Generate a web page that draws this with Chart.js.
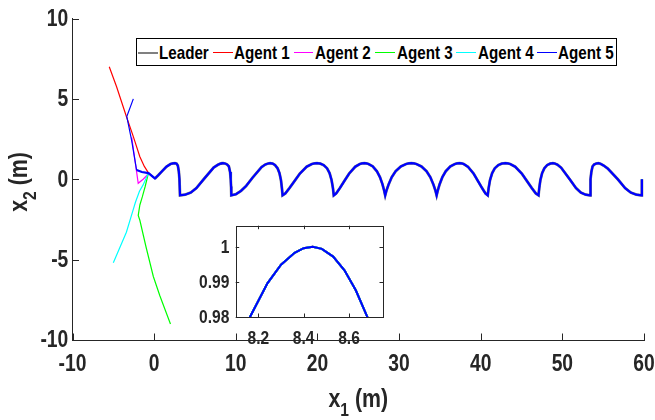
<!DOCTYPE html>
<html>
<head>
<meta charset="utf-8">
<script src="https://cdn.jsdelivr.net/npm/chart.js@4.4.0/dist/chart.umd.min.js"></script>
<style>
  body { margin: 0; background: #fff; }
  #wrap { position: relative; width: 655px; height: 420px; }
  #inset { position: absolute; left: 190px; top: 215px; }
  #main { position: absolute; left: 0; top: 0; }
  #legend {
    position: absolute; left: 136px; top: 38px; width: 479px; height: 26px;
    border: 1px solid #000; background: #fff;
    font: bold 18.5px 'Liberation Sans', Arial, sans-serif; color: #000;
  }
  .swatch { position: absolute; top: 13px; width: 19.5px; height: 0; border-top-style: solid; }
  .lbl { position: absolute; top: 3px; line-height: 21px; white-space: nowrap;
         transform: scaleX(0.82); transform-origin: left center; }
</style>
</head>
<body>
<div id="wrap">
  <canvas id="inset" width="200" height="140"></canvas>
  <canvas id="main" width="655" height="420"></canvas>
  <div id="legend"></div>
</div>
<script>
const FONT = "'Liberation Sans', Arial, sans-serif";
const SX = 0.82; // the original uses a narrow bold face

// tick values
const xTicks = [-10, 0, 10, 20, 30, 40, 50, 60];
const yTicks = [-10, -5, 0, 5, 10];
const insetXTicks = [8.2, 8.4, 8.6];
const insetYTicks = [0.98, 0.99, 1];

// leader trajectory (x1, x2)
const leaderPath = [
  [0.1,0.05],[0.5,0.25],[1.0,0.52],[1.5,0.78],[2.0,0.95],[2.3,0.99],[2.55,1.0],[2.75,0.97],[2.9,0.85],[3.02,0.5],[3.1,0.0],[3.17,-1.0],
  [3.8,-0.96],[4.49,-0.83],[5.17,-0.55],[6.07,0.0],[7.28,0.72],[7.81,0.9],[8.1,0.97],[8.163,0.98],[8.24,0.9896],[8.3,0.9949],[8.36,0.9983],[8.4,0.9996],
  [8.44,1.0],[8.48,0.9994],[8.53,0.9972],[8.58,0.9933],[8.63,0.9876],[8.681,0.98],[8.74,0.969],[8.95,0.91],[9.15,0.8],[9.3,0.45],[9.38,0.0],[9.42,-0.45],[9.45,-1.0],
  [10.02,-0.93],[10.64,-0.72],[11.26,-0.42],[12.06,0.1],[13.16,0.76],[13.63,0.92],[13.96,0.98],[14.2,1.0],[14.51,0.97],[14.81,0.88],[15.12,0.68],[15.35,0.38],[15.53,-0.05],[15.65,-0.55],[15.73,-1.0],
  [16.07,-0.88],[16.57,-0.55],[17.21,-0.1],[17.84,0.35],[18.68,0.78],[19.32,0.95],[19.65,0.99],[19.95,1.0],[20.16,0.99],[20.36,0.97],[20.77,0.88],[21.18,0.68],[21.49,0.38],[21.73,-0.05],[21.9,-0.55],[22.0,-1.0],
  [22.3,-0.88],[22.75,-0.55],[23.31,-0.1],[23.88,0.35],[24.63,0.78],[25.19,0.95],[25.47,0.985],[25.75,1.0],[26.0,0.987],[26.26,0.95],[26.77,0.8],[27.28,0.5],[27.66,0.13],[27.97,-0.32],[28.17,-0.7],[28.3,-1.0],
  [28.46,-0.7],[28.72,-0.32],[29.1,0.13],[29.58,0.5],[30.22,0.8],[30.86,0.95],[31.18,0.987],[31.5,1.0],[31.81,0.987],[32.12,0.95],[32.74,0.8],[33.36,0.5],[33.83,0.13],[34.2,-0.32],[34.45,-0.7],[34.6,-1.0],
  [34.74,-0.7],[34.96,-0.32],[35.3,0.13],[35.72,0.5],[36.28,0.8],[36.84,0.95],[37.12,0.987],[37.4,1.0],[37.66,0.988],[37.92,0.95],[38.44,0.78],[39.13,0.35],[39.65,-0.1],[40.17,-0.55],[40.58,-0.88],[40.86,-1.0],
  [40.97,-0.55],[41.14,-0.05],[41.4,0.38],[41.72,0.68],[42.14,0.88],[42.57,0.97],[42.78,0.993],[43.0,1.0],[43.3,0.988],[43.61,0.95],[44.22,0.78],[45.04,0.35],[45.65,-0.1],[46.26,-0.55],[46.75,-0.88],[47.08,-1.0],
  [47.17,-0.55],[47.31,-0.05],[47.52,0.38],[47.79,0.68],[48.14,0.88],[48.5,0.97],[48.85,1.0],[49.08,0.98],[49.4,0.91],[49.85,0.72],[50.9,0.0],[51.67,-0.55],[52.26,-0.83],[52.85,-0.96],[53.4,-1.0],
  [53.43,-0.45],[53.47,0.0],[53.55,0.45],[53.7,0.8],[53.9,0.92],[54.15,0.98],[54.4,1.0],[54.67,0.96],[55.04,0.86],[55.57,0.66],[56.79,0.0],[57.69,-0.55],[58.38,-0.83],[59.06,-0.96],[59.7,-1.0],
  [59.73,-0.5],[59.75,0.0]
];

// followers before they join the leader track
const agent1Path = [[-5.5,7.0],[-4.6,5.75],[-3.4,3.9],[-2.55,2.65],[-1.75,1.4],[-1.2,0.8],[-0.7,0.4]];
const agent2Path = [[-2.75,2.6],[-2.3,1.0],[-1.95,-0.25],[-1.35,0.0],[-0.95,0.2],[-0.7,0.38]];
const agent3Path = [[2.0,-9.0],[0.7,-7.25],[-0.1,-6.05],[-1.0,-4.2],[-1.75,-2.55],[-1.95,-2.25],[-1.75,-1.6],[-1.45,-1.1],[-1.1,-0.45],[-0.7,0.38]];
const agent4Path = [[-5.0,-5.2],[-3.4,-3.3],[-2.6,-1.95],[-2.3,-1.45],[-1.8,-0.75],[-1.35,-0.35],[-0.7,0.38]];
const agent5Path = [[-2.55,5.0],[-3.35,3.9],[-2.75,2.4],[-2.15,0.57],[-1.5,0.45],[-0.7,0.38]];

const series = [
  { label: 'Leader',  color: '#808080', width: 2.8, path: leaderPath, own: 0 },
  { label: 'Agent 1', color: '#ff0000', width: 1.2, path: agent1Path.concat(leaderPath), own: agent1Path.length },
  { label: 'Agent 2', color: '#ff00ff', width: 1.2, path: agent2Path.concat(leaderPath), own: agent2Path.length },
  { label: 'Agent 3', color: '#00ff00', width: 1.2, path: agent3Path.concat(leaderPath), own: agent3Path.length },
  { label: 'Agent 4', color: '#00ffff', width: 1.2, path: agent4Path.concat(leaderPath), own: agent4Path.length },
  { label: 'Agent 5', color: '#0000ff', width: 2.2, path: agent5Path.concat(leaderPath), own: 3 }
];

// where each legend label starts, px from the legend box
const legendTextX = [22.3, 97.3, 178, 259.7, 340.7, 421.3];

// the approach legs are thin, the shared track is thick
let makeSets = (w) => series.map((s, i) => ({
  label: s.label,
  data: s.path.map(p => ({ x: p[0], y: p[1] })),
  borderColor: s.color,
  backgroundColor: s.color,
  borderWidth: w ? w : s.width,
  segment: {
    borderWidth: (c) => (c.p0DataIndex < s.own ? 1.2 : (w ? w : s.width))
  },
  showLine: true,
  pointRadius: 0,
  tension: 0,
  fill: false,
  order: series.length - i
}));

let narrowText = (ctx, str, x, y, align) => {
  ctx.save();
  ctx.translate(x, y);
  ctx.scale(SX, 1);
  ctx.textAlign = align;
  ctx.fillText(str, 0, 0);
  ctx.restore();
};

// inward tick marks, tick labels, and a full box for the inset
const axesDeco = {
  id: 'axesDeco',
  afterDraw(chart, args, o) {
    const { ctx, chartArea: a } = chart;
    const sx = chart.scales.x, sy = chart.scales.y;
    ctx.save();
    ctx.strokeStyle = '#262626';
    ctx.lineWidth = 1;
    ctx.beginPath();
    sx.ticks.forEach(t => {
      const px = Math.round(sx.getPixelForValue(t.value)) + 0.5;
      ctx.moveTo(px, a.bottom); ctx.lineTo(px, a.bottom - o.len);
      if (o.box) { ctx.moveTo(px, a.top); ctx.lineTo(px, a.top + o.len); }
    });
    sy.ticks.forEach(t => {
      const py = Math.round(sy.getPixelForValue(t.value)) + 0.5;
      ctx.moveTo(a.left, py); ctx.lineTo(a.left + o.len, py);
      if (o.box) { ctx.moveTo(a.right, py); ctx.lineTo(a.right - o.len, py); }
    });
    ctx.stroke();
    if (o.box) {
      ctx.strokeRect(Math.round(a.left) + 0.5, Math.round(a.top) + 0.5,
        Math.round(a.right - a.left), Math.round(a.bottom - a.top));
    }
    ctx.fillStyle = '#262626';
    ctx.font = 'bold ' + o.size + 'px ' + FONT;
    ctx.textBaseline = 'middle';
    sx.ticks.forEach(t => narrowText(ctx, String(t.value), sx.getPixelForValue(t.value), o.xLabelY, 'center'));
    sy.ticks.forEach(t => narrowText(ctx, String(t.value), o.yLabelX, sy.getPixelForValue(t.value) + 1, 'right'));
    ctx.restore();
  }
};

let subLabel = (ctx, base, sub, rest, cx, y, size) => {
  const big = 'bold ' + size + 'px ' + FONT;
  const small = 'bold ' + Math.round(size * 0.72) + 'px ' + FONT;
  ctx.font = big;
  const w1 = ctx.measureText(base).width * SX, w3 = ctx.measureText(rest).width * SX;
  ctx.font = small;
  const w2 = ctx.measureText(sub).width * SX;
  let x = cx - (w1 + w2 + w3) / 2;
  ctx.textBaseline = 'alphabetic';
  ctx.font = big; narrowText(ctx, base, x, y, 'left'); x += w1;
  ctx.font = small; narrowText(ctx, sub, x, y + size * 0.33, 'left'); x += w2;
  ctx.font = big; narrowText(ctx, rest, x, y, 'left');
};

const titles = {
  id: 'titles',
  afterDraw(chart) {
    const { ctx, chartArea: a } = chart;
    ctx.save();
    ctx.fillStyle = '#262626';
    subLabel(ctx, 'x', '1', ' (m)', (a.left + a.right) / 2, 407, 26);
    ctx.translate(27, 182);
    ctx.rotate(-Math.PI / 2);
    subLabel(ctx, 'x', '2', ' (m)', 0, 0, 26);
    ctx.restore();
  }
};

let axis = (min, max, ticks, fit, border) => ({
  type: 'linear',
  min: min,
  max: max,
  grid: { display: false },
  border: { display: border, color: '#262626', width: 1 },
  afterBuildTicks: (s) => { s.ticks = ticks.map(v => ({ value: v })); },
  afterFit: fit,
  ticks: { display: false }
});

new Chart(document.getElementById('main'), {
  type: 'scatter',
  data: { datasets: makeSets() },
  plugins: [axesDeco, titles],
  options: {
    responsive: false,
    animation: false,
    devicePixelRatio: 1,
    layout: { padding: { top: 18.5, right: 11, left: 0, bottom: 0 } },
    scales: {
      x: axis(-10, 60, xTicks, (s) => { s.height = 80; }, true),
      y: axis(-10, 10, yTicks, (s) => { s.width = 72.5; }, true)
    },
    plugins: {
      legend: { display: false },
      tooltip: { enabled: false },
      axesDeco: { len: 6.5, box: false, size: 23.5, xLabelY: 365, yLabelX: 68.3 }
    }
  }
});

new Chart(document.getElementById('inset'), {
  type: 'scatter',
  data: { datasets: makeSets(2) },
  plugins: [axesDeco],
  options: {
    responsive: false,
    animation: false,
    devicePixelRatio: 1,
    layout: { padding: { top: 10.7, right: 7, left: 0, bottom: 0 } },
    scales: {
      x: axis(8.1, 8.75, insetXTicks, (s) => { s.height = 38; }, false),
      y: axis(0.98, 1.006, insetYTicks, (s) => { s.width = 45.7; }, false)
    },
    plugins: {
      legend: { display: false },
      tooltip: { enabled: false },
      axesDeco: { len: 3.5, box: true, size: 19, xLabelY: 123.3, yLabelX: 39.3 }
    }
  }
});

// legend
const legend = document.getElementById('legend');
series.forEach((s, i) => {
  const sw = document.createElement('span');
  sw.className = 'swatch';
  sw.style.left = (legendTextX[i] - 21.3) + 'px';
  sw.style.borderTopColor = s.color;
  sw.style.borderTopWidth = (i === 0 ? 2 : 1) + 'px';
  const txt = document.createElement('span');
  txt.className = 'lbl';
  txt.style.left = legendTextX[i] + 'px';
  txt.textContent = s.label;
  legend.appendChild(sw);
  legend.appendChild(txt);
});
</script>
</body>
</html>
